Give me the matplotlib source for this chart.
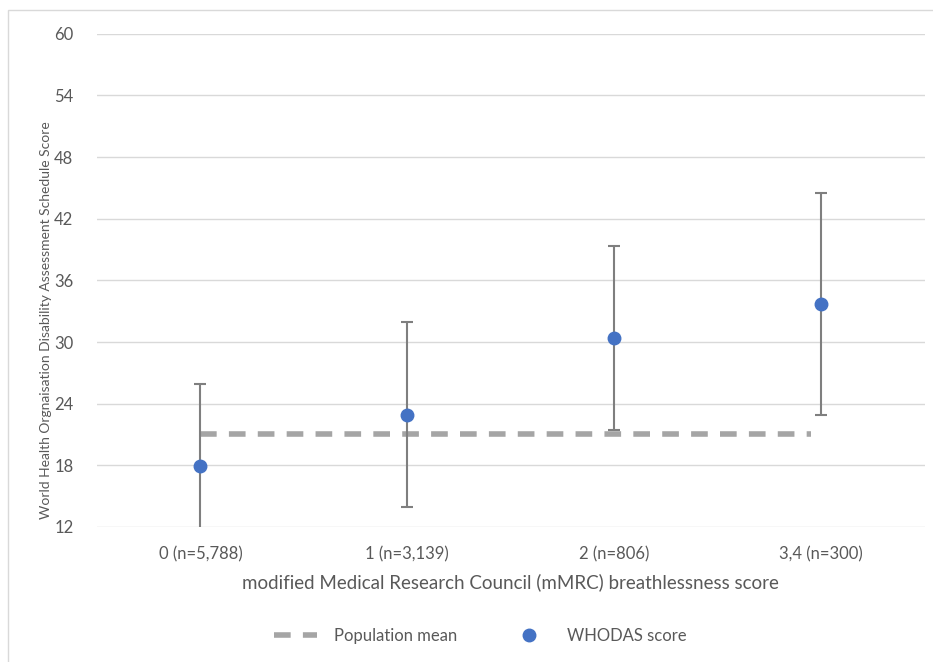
import numpy as np
import matplotlib
matplotlib.use("Agg")
from matplotlib import pyplot as plt
from matplotlib.patches import Rectangle

# values
categories = ['0 (n=5,788)', '1 (n=3,139)', '2 (n=806)', '3,4 (n=300)']
whodas = [17.9, 22.9, 30.4, 33.7]
whodas_sd = [8.0, 9.0, 8.95, 10.85]
population_mean = 21.0
y_ticks = [12, 18, 24, 30, 36, 42, 48, 54, 60]

plt.rcParams['font.family'] = ['Lato', 'DejaVu Sans']

fig = plt.figure(figsize=(9.33, 6.62), dpi=100)
ax = fig.add_axes([0.104, 0.204, 0.887, 0.745])

# light frame round the chart area
fig.patches.append(Rectangle((0.009, -0.01), 1.0, 0.995, transform=fig.transFigure,
                             fill=False, edgecolor='#d9d9d9', linewidth=1.0))

x = np.arange(len(categories))

ax.plot([x[0], x[-1] - 0.05], [population_mean, population_mean], color='#a5a5a5',
        linewidth=4, dashes=(3, 2.2), label='Population mean', zorder=2)
ax.errorbar(x, whodas, yerr=whodas_sd, fmt='none', ecolor='#7f7f7f',
            elinewidth=1.5, capsize=4, capthick=1.5, zorder=3)
ax.plot(x, whodas, 'o', color='#4472c4', markersize=9, linestyle='none',
        label='WHODAS score', zorder=4)

ax.set_xlim(-0.5, 3.5)
ax.set_ylim(12, 60)
ax.set_yticks(y_ticks)
ax.set_xticks(x)
ax.set_xticklabels(categories)
ax.grid(axis='y', color='#d9d9d9', linewidth=1)
ax.set_axisbelow(True)
for s in ax.spines.values():
    s.set_visible(False)
ax.tick_params(length=0, colors='#595959', labelsize=12)
ax.tick_params(axis='y', pad=17)
ax.tick_params(axis='x', pad=14)

ax.set_xlabel('modified Medical Research Council (mMRC) breathlessness score',
              fontsize=13.5, color='#595959', labelpad=8)
ax.set_ylabel('World Health Orgnaisation Disability Assessment Schedule Score',
              fontsize=10, color='#595959', labelpad=10)
ax.yaxis.set_label_coords(-0.055, 0.42)

leg = fig.legend(loc='center', bbox_to_anchor=(0.515, 0.04), ncol=2, frameon=False,
                 fontsize=12, handlelength=2.6, columnspacing=3.0, handletextpad=1.0)
for t in leg.get_texts():
    t.set_color('#595959')

fig.savefig('out.png', dpi=100)
